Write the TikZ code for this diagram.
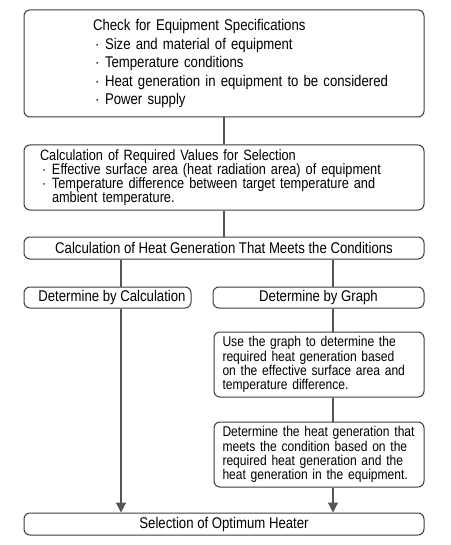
\documentclass[tikz,border=0pt]{standalone}
\usepackage{fontspec}
\setmainfont{Liberation Sans}[FakeStretch=0.85]
\usetikzlibrary{positioning, arrows.meta}
\definecolor{boxcol}{RGB}{60, 60, 60}
\definecolor{linkcol}{RGB}{85, 85, 85}
\newcommand{\dotitem}{\makebox[12pt][l]{\hspace{2pt}\textperiodcentered}}
\tikzset{
  stepbox/.style={draw=boxcol, rounded corners=6pt, line width=1pt, inner sep=0pt,
                  align=center, font=\fontsize{15.5}{14.3}\selectfont},
  notebox/.style={stepbox, minimum width=210pt, minimum height=65pt, text width=193pt,
                  align=left, font=\fontsize{14.2}{14.3}\selectfont},
  link/.style={draw=linkcol, line width=1.2pt},
  flow/.style={link, -{Triangle[length=10pt, width=10pt]}},
}

\begin{document}
\begin{tikzpicture}[x=1pt, y=-1pt]
  \useasboundingbox (0,0) rectangle (450,545);

  % top two boxes
  \node[stepbox, minimum width=400pt, minimum height=107pt, text width=400pt,
        align=left, font=\fontsize{15.5}{18.5}\selectfont] (spec) at (224,63.5)
    {\hspace*{69pt}Check for Equipment Specifications\\
     \hspace*{69pt}\dotitem Size and material of equipment\\
     \hspace*{69pt}\dotitem Temperature conditions\\
     \hspace*{69pt}\dotitem Heat generation in equipment to be considered\\
     \hspace*{69pt}\dotitem Power supply};
  \node[stepbox, minimum width=400pt, minimum height=65pt, text width=368pt,
        align=left, font=\fontsize{15}{14}\selectfont] (req) at (224,177.5)
    {Calculation of Required Values for Selection\\
     \dotitem Effective surface area (heat radiation area) of equipment\\
     \dotitem Temperature difference between target temperature and\\
     \hspace*{12pt}ambient temperature.};

  \node[stepbox, minimum width=400pt, minimum height=22pt] (heat) at (224,248)
    {Calculation of Heat Generation That Meets the Conditions};

  % two ways
  \node[stepbox, minimum width=167pt, minimum height=21pt] (calc) at (107.5,297.5)
    {\hspace*{9pt}Determine by Calculation};
  \node[stepbox, minimum width=211pt, minimum height=21pt] (graph) at (318.5,297.5)
    {Determine by Graph};

  \node[notebox] (use) at (319,364.5)
    {\mbox{Use the graph to determine the}\\
     \mbox{required heat generation based}\\
     \mbox{on the effective surface area and}\\
     \mbox{temperature difference.}};
  \node[notebox] (meet) at (319,454.5)
    {\mbox{Determine the heat generation that}\\
     \mbox{meets the condition based on the}\\
     \mbox{required heat generation and the}\\
     \mbox{heat generation in the equipment.}};

  \node[stepbox, minimum width=400pt, minimum height=22pt] (opt) at (224,524)
    {Selection of Optimum Heater};

  \coordinate (lx) at (121,0);
  \coordinate (rx) at (333,0);

  \draw[link] (spec) -- (req);
  \draw[link] (req) -- (heat);
  \draw[link] (heat.south -| lx) -- (calc.north -| lx);
  \draw[link] (heat.south -| rx) -- (graph.north -| rx);
  \draw[link] (graph.south -| rx) -- (use.north -| rx);
  \draw[link] (use.south -| rx) -- (meet.north -| rx);
  \draw[flow] (calc.south -| lx) -- (opt.north -| lx);
  \draw[flow] (meet.south -| rx) -- (opt.north -| rx);
\end{tikzpicture}
\end{document}
